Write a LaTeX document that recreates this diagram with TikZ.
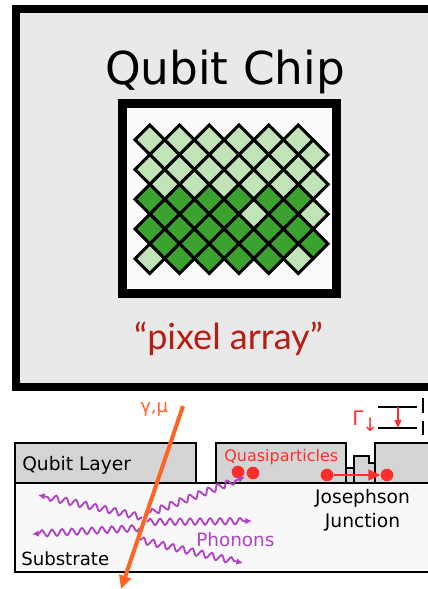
\documentclass[tikz,border=0pt]{standalone}
\usepackage{fontspec}
\setmainfont{DejaVu Sans}
\newfontfamily\arrayfont{Lato}
\usetikzlibrary{arrows.meta,decorations.pathmorphing}

\definecolor{chipgray}{HTML}{E9E9E9}
\definecolor{arraywhite}{HTML}{FAFAFA}
\definecolor{idle}{HTML}{C0E4B8}
\definecolor{hit}{HTML}{3CA22F}
\definecolor{arrayred}{HTML}{B81D12}
\definecolor{layergray}{HTML}{D4D4D4}
\definecolor{substrate}{HTML}{F8F8F8}
\definecolor{qpred}{HTML}{FF2E2E}
\definecolor{rayorange}{HTML}{FF6424}
\definecolor{phononpurple}{HTML}{B043C4}

\tikzset{
  pixel/.style={draw=black, line width=2.25pt},
  layer/.style={draw=black, line width=1.8pt, fill=layergray},
  qpdot/.style={circle, fill=qpred, minimum size=9.5pt},
  phonon/.style={draw=phononpurple, line width=1.4pt, decorate,
    decoration={snake, amplitude=2.4pt, segment length=7.5pt, post length=4pt},
    -{Latex[length=5pt,width=5pt]}},
}

\begin{document}
\begin{tikzpicture}[x=0.75pt,y=-0.75pt,every node/.style={inner sep=0pt}]
  \useasboundingbox (0,0) rectangle (428,589);
  \clip (0,0) rectangle (428,589);

  % Chip
  \draw[line width=6pt, fill=chipgray] (16,9) rectangle (470,387);
  \node[anchor=base, font=\fontsize{34}{40}\selectfont] (chiptitle) at (225,84) {Qubit Chip};

  % Pixel array
  \draw[line width=6.75pt, fill=arraywhite] (122,103.5) rectangle (336.5,293);
  \def\h{14.85}
  \foreach \row/\shades in {
      0/{idle,idle,idle,idle,idle,idle},
      1/{idle,idle,idle,idle,idle,idle},
      2/{idle,idle,idle,idle,idle,idle},
      3/{idle,idle,idle,idle,idle,idle},
      4/{hit,hit,hit,hit,hit,hit},
      5/{hit,hit,hit,idle,hit,idle},
      6/{hit,hit,hit,hit,hit,hit},
      7/{hit,hit,hit,hit,hit,hit},
      8/{idle,hit,hit,hit,hit,idle}} {
    \foreach \s [count=\col from 0] in \shades {
      \pgfmathsetmacro\cx{135+\h*(1+mod(\row,2)+2*\col)}
      \pgfmathsetmacro\cy{125+\h*(1+\row)}
      \draw[pixel, fill=\s] ({\cx},{\cy-\h}) -- ({\cx+\h},{\cy})
        -- ({\cx},{\cy+\h}) -- ({\cx-\h},{\cy}) -- cycle;
    }
  }
  \node[anchor=base, text=arrayred, font=\arrayfont\fontsize{27}{32}\selectfont]
    (arraylabel) at (228.5,349) {“pixel array”};

  % Substrate and qubit layers
  \draw[layer, fill=substrate] (15,483) rectangle (470,572);
  \draw[layer] (15,443) rectangle (196,483);
  \draw[layer] (216,443) rectangle (346,483);
  \draw[layer] (375,443) rectangle (470,483);
  % junction
  \draw[layer] (346,483) -- (346,468) -- (354,468) -- (354,456) -- (369,456)
    -- (369,463) -- (375,463) -- (375,483) -- cycle;
  \draw[line width=1.8pt] (354,468) -- (354,483);

  \node[anchor=base west, font=\fontsize{14}{17}\selectfont] (layerlabel) at (22,470) {Qubit Layer};
  \node[anchor=base west, font=\fontsize{13.6}{16}\selectfont] (sublabel) at (21,565) {Substrate};
  \node[anchor=base, font=\fontsize{14}{17}\selectfont] (jjtop) at (362.5,503) {Josephson};
  \node[anchor=base, font=\fontsize{14}{17}\selectfont] (jjbot) at (362.5,527) {Junction};

  % Quasiparticles
  \node[anchor=base west, text=qpred, font=\fontsize{12}{15}\selectfont] (qplabel) at (224,461) {Quasiparticles};
  \node[qpdot] (qp1) at (238,472) {};
  \node[qpdot] (qp2) at (253,473) {};
  \node[qpdot] (qp3) at (327,475) {};
  \node[qpdot] (qp4) at (387,475) {};
  \draw[qpred, line width=1.9pt, -{Triangle[length=9pt,width=8pt]}] (qp3) -- (qp4);

  % Decay between levels
  \node[anchor=base west, text=qpred, font=\fontsize{15}{18}\selectfont] (rate) at (352,425)
    {Γ\kern-0.05em\raisebox{-0.3em}{\fontsize{14}{14}\selectfont ↓}};
  \coordinate (eup) at (398,407);
  \coordinate (edown) at (398,428);
  \draw[line width=1.5pt] (378,407) -- (417,407);
  \draw[line width=1.5pt] (378,428) -- (417,428);
  \draw[qpred, line width=1.5pt, -{Triangle[length=6pt,width=5pt]}] (eup) -- (edown);
  \draw[line width=1.5pt, dash pattern=on 11pt off 6pt] (423,398) -- (423,438);

  % Phonons
  \coordinate (srcA) at (142,517);
  \coordinate (srcB) at (140,528);
  \coordinate (srcC) at (147,522);
  \coordinate (srcD) at (140,540);
  \coordinate (srcQ) at (150,513);
  \coordinate (endA) at (38,495);
  \coordinate (endB) at (32,534);
  \coordinate (endC) at (252,521);
  \coordinate (endD) at (243,563);
  \coordinate (endQ) at (245,477);
  \draw[phonon] (srcA) -- (endA);
  \draw[phonon] (srcB) -- (endB);
  \draw[phonon] (srcC) -- (endC);
  \draw[phonon] (srcD) -- (endD);
  \draw[phonon] (srcQ) -- (endQ);
  \node[anchor=base west, text=phononpurple, font=\fontsize{13.8}{16}\selectfont] (phlabel) at (196,546) {Phonons};

  % Incoming particle
  \coordinate (raytop) at (183,406);
  \coordinate (rayend) at (121,589);
  \node[anchor=base west, text=rayorange, font=\fontsize{13.5}{16}\selectfont] (raylabel) at (140,412) {γ,μ};
  \draw[rayorange, line width=3pt, -{Triangle[length=10pt,width=9pt]}] (raytop) -- (rayend);
\end{tikzpicture}
\end{document}
